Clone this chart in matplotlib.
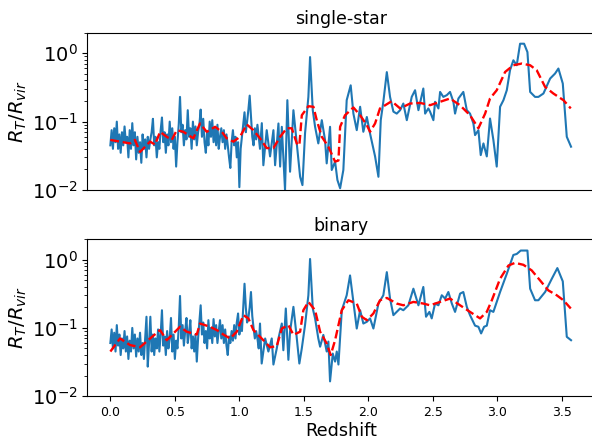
import matplotlib
matplotlib.use("Agg")
import matplotlib.pyplot as plt

# ---------------- single-star ----------------
z_single_low = [0.00,0.01,0.02,0.03,0.04,0.05,0.06,0.07,0.08,0.09,
                0.10,0.11,0.12,0.13,0.14,0.15,0.16,0.17,0.18,0.19,
                0.20,0.21,0.22,0.23,0.24,0.25,0.26,0.27,0.28,0.29,
                0.30,0.31,0.32,0.33,0.34,0.35,0.36,0.37,0.38,0.39,
                0.40,0.41,0.42,0.43,0.44,0.45,0.46,0.47,0.48,0.49,
                0.50,0.51,0.52,0.53,0.54,0.55,0.56,0.57,0.58,0.59,
                0.60,0.61,0.62,0.63,0.64,0.65,0.66,0.67,0.68,0.69,
                0.70,0.71,0.72,0.73,0.74,0.75,0.76,0.77,0.78,0.79,
                0.80,0.81,0.82,0.83,0.84,0.85,0.86,0.87,0.88,0.89,
                0.90,0.91,0.92,0.93,0.94,0.95,0.96,0.97,0.98,0.99,
                1.00,1.01,1.02,1.03,1.04,1.05,1.06,1.07,1.08,1.09,
                1.10,1.11,1.12,1.13,1.14,1.15,1.16]
r_single_low = [0.045,0.075,0.040,0.080,0.050,0.100,0.040,0.065,0.035,0.070,
                0.045,0.085,0.050,0.060,0.030,0.075,0.040,0.095,0.045,0.070,
                0.028,0.060,0.035,0.050,0.025,0.065,0.040,0.055,0.030,0.060,
                0.040,0.055,0.070,0.110,0.045,0.060,0.030,0.050,0.040,0.075,
                0.115,0.050,0.070,0.035,0.065,0.045,0.100,0.050,0.080,0.040,
                0.060,0.022,0.050,0.090,0.230,0.070,0.090,0.045,0.075,0.055,
                0.147,0.060,0.080,0.040,0.100,0.055,0.085,0.045,0.070,0.090,
                0.150,0.060,0.110,0.050,0.035,0.070,0.045,0.100,0.060,0.105,
                0.050,0.080,0.045,0.090,0.040,0.060,0.080,0.050,0.075,0.040,
                0.065,0.045,0.030,0.021,0.050,0.075,0.045,0.060,0.030,0.050,
                0.011,0.040,0.060,0.090,0.137,0.070,0.100,0.150,0.240,0.120,
                0.060,0.045,0.080,0.055,0.090,0.060,0.040]
z_single_high = [1.174,1.186,1.212,1.238,1.264,1.277,1.303,1.316,1.329,1.354,
                 1.372,1.393,1.419,1.445,1.471,1.489,1.509,1.535,1.548,1.569,
                 1.587,1.612,1.639,1.664,1.677,1.703,1.716,1.742,1.760,1.781,
                 1.806,1.832,1.863,1.884,1.910,1.936,1.961,1.988,2.013,2.052,
                 2.078,2.096,2.116,2.143,2.168,2.194,2.220,2.246,2.271,2.298,
                 2.336,2.362,2.388,2.426,2.440,2.465,2.478,2.504,2.517,2.543,
                 2.556,2.581,2.608,2.633,2.659,2.672,2.698,2.736,2.763,2.788,
                 2.814,2.827,2.853,2.871,2.892,2.918,2.943,2.969,2.995,3.021,
                 3.047,3.073,3.098,3.124,3.150,3.176,3.207,3.233,3.254,3.292,
                 3.318,3.357,3.409,3.447,3.473,3.507,3.538,3.571]
r_single_high = [0.095,0.023,0.075,0.031,0.075,0.023,0.094,0.022,0.084,0.010,
                 0.206,0.0185,0.147,0.048,0.0156,0.0118,0.067,0.23,0.88,0.147,
                 0.084,0.048,0.105,0.054,0.0245,0.084,0.0196,0.026,0.014,0.0106,
                 0.0196,0.206,0.34,0.131,0.075,0.165,0.071,0.117,0.067,0.031,
                 0.0156,0.105,0.195,0.53,0.23,0.14,0.131,0.147,0.184,0.105,
                 0.23,0.288,0.147,0.305,0.131,0.156,0.14,0.105,0.195,0.156,
                 0.272,0.23,0.244,0.272,0.195,0.131,0.218,0.272,0.147,0.131,
                 0.094,0.0635,0.075,0.0324,0.048,0.031,0.111,0.054,0.022,0.165,
                 0.206,0.288,0.565,0.79,0.668,1.38,1.38,1.04,0.272,0.23,
                 0.23,0.258,0.427,0.505,0.598,0.361,0.060,0.043]

z_single_smooth = [0.0,0.075,0.153,0.19,0.23,0.308,0.347,0.385,0.437,0.476,
                   0.515,0.566,0.605,0.643,0.695,0.747,0.812,0.864,0.902,0.954,
                   1.005,1.057,1.109,1.16,1.212,1.264,1.316,1.367,1.406,1.445,
                   1.465,1.484,1.535,1.574,1.60,1.639,1.69,1.742,1.768,1.781,
                   1.819,1.884,1.936,1.988,2.013,2.052,2.09,2.181,2.246,2.323,
                   2.40,2.478,2.556,2.633,2.71,2.788,2.853,2.905,2.943,2.995,
                   3.06,3.124,3.189,3.254,3.305,3.37,3.434,3.512,3.569]
r_single_smooth = [0.054,0.051,0.048,0.054,0.036,0.051,0.046,0.071,0.060,0.054,
                   0.075,0.071,0.0635,0.057,0.094,0.071,0.084,0.071,0.057,0.051,
                   0.060,0.091,0.075,0.057,0.041,0.041,0.060,0.080,0.080,0.048,
                   0.045,0.124,0.168,0.165,0.105,0.060,0.043,0.026,0.027,0.084,
                   0.124,0.161,0.124,0.089,0.071,0.094,0.156,0.199,0.156,0.184,
                   0.188,0.174,0.195,0.218,0.174,0.124,0.080,0.131,0.218,0.288,
                   0.533,0.668,0.707,0.668,0.565,0.322,0.258,0.206,0.156]

# ---------------- binary ----------------
z_binary_low = [0.00,0.01,0.02,0.03,0.04,0.05,0.06,0.07,0.08,0.09,
                0.10,0.11,0.12,0.13,0.14,0.15,0.16,0.17,0.18,0.19,
                0.20,0.21,0.22,0.23,0.24,0.25,0.26,0.27,0.28,0.29,
                0.30,0.31,0.32,0.33,0.34,0.35,0.36,0.37,0.38,0.39,
                0.40,0.41,0.42,0.43,0.44,0.45,0.46,0.47,0.48,0.49,
                0.50,0.51,0.52,0.53,0.54,0.55,0.56,0.57,0.58,0.59,
                0.60,0.61,0.62,0.63,0.64,0.65,0.66,0.67,0.68,0.69,
                0.70,0.71,0.72,0.73,0.74,0.75,0.76,0.77,0.78,0.79,
                0.80,0.81,0.82,0.83,0.84,0.85,0.86,0.87,0.88,0.89,
                0.90,0.91,0.92,0.93,0.94,0.95,0.96,0.97,0.98,0.99,
                1.00,1.01,1.02,1.03,1.04,1.05,1.06,1.07,1.08,1.09,
                1.10,1.11,1.12,1.13,1.14,1.15]
r_binary_low = [0.060,0.095,0.050,0.085,0.045,0.110,0.055,0.080,0.040,0.070,
                0.050,0.090,0.045,0.075,0.035,0.065,0.045,0.100,0.050,0.080,
                0.038,0.070,0.045,0.085,0.040,0.060,0.035,0.070,0.146,0.027,
                0.060,0.146,0.045,0.080,0.040,0.070,0.050,0.095,0.045,0.080,
                0.182,0.055,0.075,0.040,0.090,0.050,0.070,0.140,0.045,0.080,
                0.035,0.065,0.050,0.100,0.295,0.070,0.110,0.055,0.090,0.140,
                0.060,0.085,0.130,0.050,0.075,0.045,0.080,0.032,0.070,0.120,
                0.215,0.080,0.120,0.060,0.090,0.050,0.130,0.070,0.100,0.060,
                0.135,0.075,0.110,0.060,0.090,0.130,0.070,0.110,0.060,0.095,
                0.055,0.040,0.075,0.060,0.090,0.065,0.110,0.070,0.120,0.163,
                0.080,0.120,0.090,0.200,0.446,0.200,0.120,0.140,0.200,0.337,
                0.150,0.100,0.070,0.090,0.070,0.050]
z_binary_high = [1.160,1.173,1.200,1.225,1.251,1.264,1.290,1.303,1.329,1.341,
                 1.360,1.380,1.393,1.419,1.440,1.465,1.484,1.509,1.535,1.548,
                 1.569,1.587,1.612,1.626,1.651,1.677,1.690,1.703,1.724,1.742,
                 1.755,1.768,1.794,1.832,1.858,1.884,1.910,1.936,1.961,1.988,
                 2.013,2.039,2.078,2.116,2.143,2.168,2.194,2.220,2.246,2.271,
                 2.310,2.349,2.388,2.426,2.447,2.473,2.491,2.517,2.543,2.569,
                 2.595,2.620,2.647,2.672,2.711,2.736,2.763,2.788,2.827,2.853,
                 2.874,2.897,2.918,2.943,2.969,3.021,3.073,3.124,3.150,3.181,
                 3.233,3.254,3.292,3.318,3.370,3.422,3.465,3.507,3.538,3.571]
r_binary_high = [0.116,0.030,0.070,0.045,0.070,0.029,0.050,0.070,0.116,0.047,
                 0.193,0.034,0.088,0.204,0.088,0.030,0.050,0.110,0.302,1.03,
                 0.193,0.138,0.070,0.053,0.079,0.045,0.063,0.0164,0.042,0.032,
                 0.045,0.029,0.182,0.302,0.59,0.241,0.098,0.182,0.116,0.123,
                 0.138,0.098,0.228,0.302,0.66,0.27,0.154,0.172,0.193,0.182,
                 0.215,0.377,0.215,0.40,0.146,0.172,0.138,0.228,0.215,0.302,
                 0.27,0.337,0.228,0.172,0.319,0.337,0.204,0.154,0.108,0.104,
                 0.083,0.104,0.108,0.182,0.172,0.337,0.625,1.18,1.22,1.37,
                 1.37,0.377,0.255,0.255,0.337,0.528,0.757,0.483,0.074,0.066]

z_binary_smooth = [0.0,0.075,0.153,0.23,0.308,0.385,0.437,0.54,0.592,0.67,
                   0.695,0.773,0.825,0.876,0.928,0.98,1.031,1.07,1.109,1.186,
                   1.238,1.29,1.329,1.38,1.419,1.471,1.496,1.535,1.587,1.626,
                   1.677,1.708,1.742,1.794,1.845,1.91,1.949,1.988,2.039,2.09,
                   2.143,2.22,2.271,2.349,2.426,2.478,2.556,2.633,2.711,2.788,
                   2.866,2.918,2.957,3.021,3.086,3.137,3.202,3.266,3.331,3.395,
                   3.46,3.512,3.569]
r_binary_smooth = [0.045,0.070,0.056,0.052,0.070,0.093,0.066,0.104,0.088,0.080,
                   0.116,0.104,0.093,0.080,0.070,0.088,0.154,0.138,0.093,0.066,
                   0.052,0.054,0.098,0.110,0.079,0.088,0.182,0.241,0.182,0.088,
                   0.059,0.040,0.066,0.182,0.255,0.228,0.146,0.130,0.163,0.255,
                   0.276,0.228,0.215,0.241,0.228,0.215,0.241,0.270,0.215,0.172,
                   0.138,0.172,0.255,0.528,0.826,0.904,0.845,0.700,0.499,0.356,
                   0.302,0.255,0.193]

titles = ["single-star", "binary"]

fig = plt.figure(figsize=(5.92, 4.40), dpi=100)
ax1 = fig.add_axes([0.1475, 0.5682, 0.856, 0.3575])
ax2 = fig.add_axes([0.1475, 0.1000, 0.856, 0.3560], sharex=ax1)

series = [
    (ax1, z_single_low + z_single_high, r_single_low + r_single_high,
     z_single_smooth, r_single_smooth),
    (ax2, z_binary_low + z_binary_high, r_binary_low + r_binary_high,
     z_binary_smooth, r_binary_smooth),
]
for (ax, zb, rb, zs, rs), t in zip(series, titles):
    ax.plot(zb, rb, color="#1f77b4", lw=1.5)
    ax.plot(zs, rs, "r--", lw=1.7)
    ax.set_yscale("log")
    ax.set_ylim(0.01, 2.0)
    ax.set_title(t, fontsize=12.5)
    ax.set_ylabel(r"$R_T/R_{vir}$", fontsize=14)
    ax.tick_params(axis="y", labelsize=14)
    ax.tick_params(axis="x", labelsize=9)
    ax.yaxis.set_label_coords(-0.115, 0.5)

ax1.tick_params(axis="x", bottom=False, labelbottom=False)
ax2.set_xlabel("Redshift", fontsize=12.7, labelpad=2)

fig.savefig("out.png", dpi=100)
